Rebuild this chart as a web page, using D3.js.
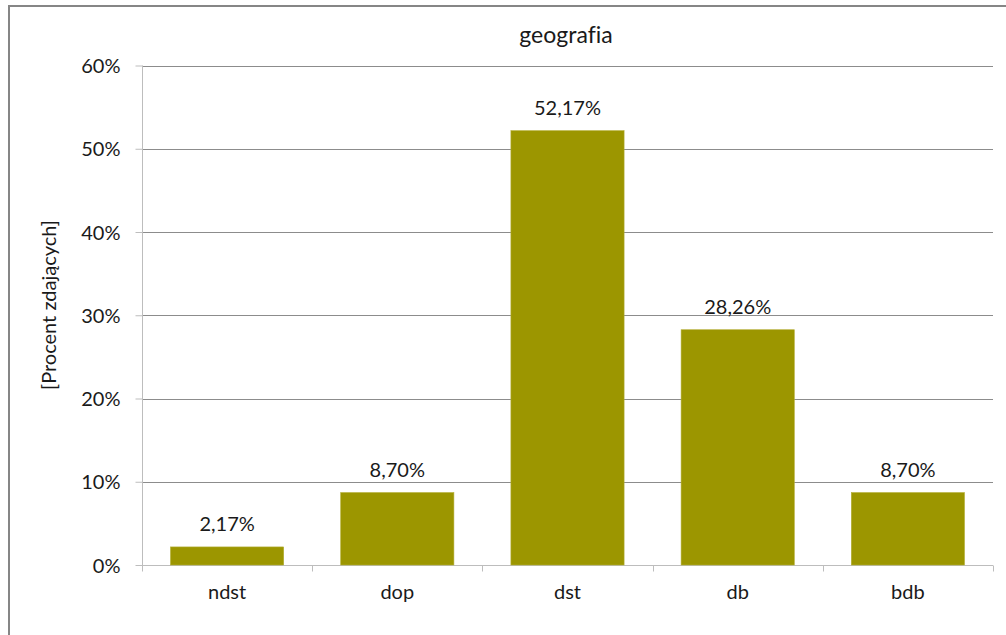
<!DOCTYPE html>
<html><head><meta charset="utf-8">
<script src="https://cdn.jsdelivr.net/npm/d3@7"></script>
<style>body{margin:0;background:#fff}svg{display:block}text{font-family:Lato,"Open Sans",sans-serif;fill:#1a1a1a;font-variant-ligatures:none;font-feature-settings:"liga" 0}</style>
</head><body><svg id="c" width="1006" height="635"></svg>
<script>
const categories = ["ndst","dop","dst","db","bdb"];
const values = [2.17, 8.70, 52.17, 28.26, 8.70];
const yTicks = [0,10,20,30,40,50,60];
const title = "geografia";
const yTitle = "[Procent zdających]";

const FONT = "Lato,'Open Sans',sans-serif";
const svg = d3.select("#c");
// outer frame (cropped at right/bottom)
svg.append("rect").attr("x",9).attr("y",6).attr("width",1010).attr("height",640)
  .attr("fill","none").attr("stroke","#868686").attr("stroke-width",2);

const L=142, R=993, T=65.5, B=565;
const x = d3.scaleBand().domain(categories).range([L,R]).paddingInner(0.335).paddingOuter(0.1675);
const y = d3.scaleLinear().domain([0,60]).range([B,T]);
const fmt = v => d3.format(".2f")(v).replace(".",",")+"%";

// gridlines
svg.append("g").selectAll("line").data(yTicks.filter(d=>d>0)).join("line")
  .attr("x1",L).attr("x2",R).attr("y1",d=>Math.round(y(d))+0.5).attr("y2",d=>Math.round(y(d))+0.5)
  .attr("stroke","#8c8c8c").attr("stroke-width",1);

// y axis
const ya = svg.append("g").attr("transform",`translate(${L+0.5},0)`)
  .call(d3.axisLeft(y).tickValues(yTicks).tickFormat(d=>d+"%").tickSize(7).tickPadding(14));
ya.select(".domain").attr("stroke","#bdbdbd").attr("d",`M0,${T}V${B}`);
ya.selectAll(".tick line").attr("stroke","#bdbdbd");
ya.selectAll(".tick text").attr("font-size",20).attr("fill","#1a1a1a").attr("font-family",FONT).attr("x",-22).attr("dy","0.36em");

// x axis
const xa = svg.append("g").attr("transform",`translate(0,${B+0.5})`)
  .call(d3.axisBottom(x).tickSize(0).tickPadding(18));
xa.select(".domain").attr("stroke","#bdbdbd").attr("d",`M${L},0H${R}`);
xa.selectAll(".tick text").attr("font-size",20).attr("fill","#1a1a1a").attr("font-family",FONT).attr("y",33).attr("dy","0");
// category separators
const step = x.step();
xa.append("g").selectAll("line").data(d3.range(categories.length+1)).join("line")
  .attr("x1",i=>Math.round(L+i*step)+0.5).attr("x2",i=>Math.round(L+i*step)+0.5)
  .attr("y1",0).attr("y2",6).attr("stroke","#bdbdbd");

// bars
svg.append("g").selectAll("rect").data(values).join("rect")
  .attr("x",(d,i)=>x(categories[i])).attr("width",x.bandwidth())
  .attr("y",d=>y(d)).attr("height",d=>B-y(d))
  .attr("fill","#9c9600").attr("stroke","#b3ad33").attr("stroke-width",0.6);

// labels
svg.append("g").selectAll("text").data(values).join("text")
  .attr("x",(d,i)=>x(categories[i])+x.bandwidth()/2).attr("y",d=>y(d)-16)
  .attr("text-anchor","middle").attr("font-size",20).text(fmt);

svg.append("text").attr("x",566).attr("y",43).attr("text-anchor","middle").attr("font-size",23).text(title);
svg.append("text").attr("transform","translate(56,305) rotate(-90)").attr("text-anchor","middle").attr("font-size",20).text(yTitle);
</script></body></html>
